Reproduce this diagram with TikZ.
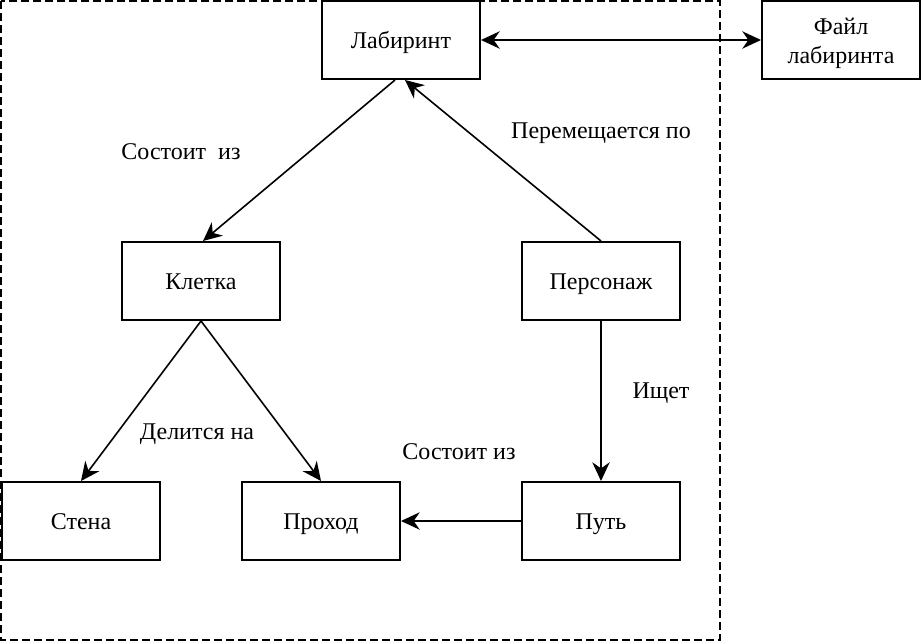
\documentclass[tikz,border=0pt]{standalone}
\usepackage{fontspec}
\setmainfont{Liberation Serif}
\usepackage{tikz}
\usetikzlibrary{arrows.meta,positioning}
\tikzset{%
	block/.style  = {draw, rectangle, line width=1.5pt, minimum width=118.5pt, minimum height=58.5pt, inner sep=0pt, text height=13pt, text depth=0pt, font=\rmfamily\fontsize{18}{22}\selectfont}, % Box
	remark/.style = {inner sep=0pt, text height=13pt, text depth=0pt, font=\rmfamily\fontsize{18}{22}\selectfont}, % Edge text
	frame/.style  = {draw, line width=1.5pt, dash pattern=on 6pt off 3pt}, % Dashed border
	arrow/.style  = {line width=1.2pt, -{Stealth[length=14pt,width=13pt,inset=4.5pt]}},
	twoway/.style = {line width=1.2pt, {Stealth[length=14pt,width=13pt,inset=4.5pt]}-{Stealth[length=14pt,width=13pt,inset=4.5pt]}},
}

\begin{document}
\begin{tikzpicture}[x=0.75pt,y=-0.75pt]
	\useasboundingbox (0,0) rectangle (924,642);
	\draw[frame] (1,1) rectangle (720,640);

	\node [block] (lab) at (401,40) {Лабиринт};
	\node [block,align=center,text height=36pt,text depth=0pt] (file) at (841,40) {Файл\\лабиринта};
	\node [block] (cell) at (201,281) {Клетка};
	\node [block] (hero) at (601,281) {Персонаж};
	\node [block] (path) [below=120pt of hero] {Путь};
	\node [block] (pass) at (321,521) {Проход};
	\node [block] (wall) at (81,521) {Стена};

	\node [remark] (consists) at (181,151) {Состоит~~из};
	\node [remark] (moves) at (601,130) {Перемещается по};
	\node [remark] (splits) at (197,431) {Делится на};
	\node [remark] (seeks) at (661,390) {Ищет};
	\node [remark] (made) at (459,451) {Состоит из};

	\draw[twoway] (lab) -- (file);
	\draw[arrow] ([xshift=-4.5pt]lab.south) -- ([xshift=1.5pt]cell.north);
	\draw[arrow] (hero.north) -- ([xshift=3pt]lab.south);
	\draw[arrow] (cell.south) -- (wall.north);
	\draw[arrow] (cell.south) -- (pass.north);
	\draw[arrow] (hero) -- (path);
	\draw[arrow] (path) -- (pass);
\end{tikzpicture}
\end{document}
